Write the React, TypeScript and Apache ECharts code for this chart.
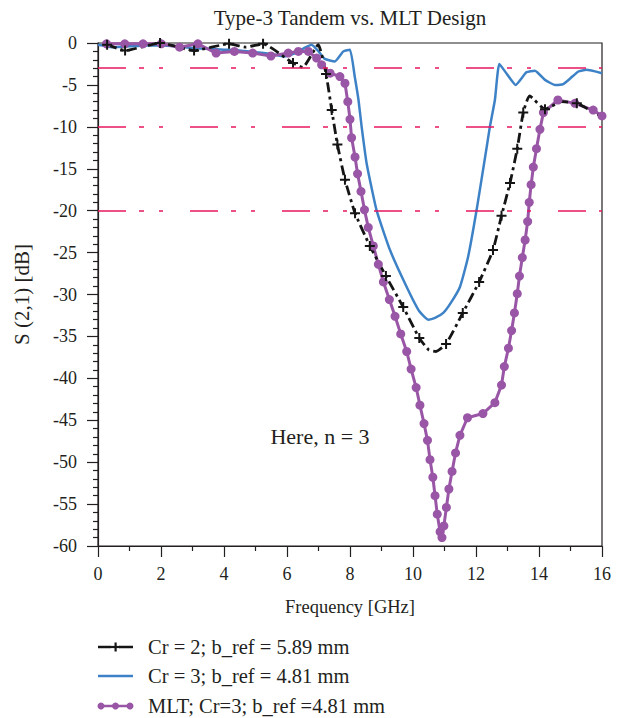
import { useEffect, useRef } from 'react';
import * as echarts from 'echarts';

const titleText = 'Type-3 Tandem vs. MLT Design';
const xName = 'Frequency [GHz]';
const yName = 'S (2,1) [dB]';
const noteText = 'Here, n = 3';
const legendNames = ['Cr = 2; b_ref = 5.89 mm', 'Cr = 3; b_ref = 4.81 mm', 'MLT; Cr=3; b_ref =4.81 mm'];
const refLevels = [-3, -10, -20];

const cr2Freq = [0.29, 0.86, 1.97, 3.05, 4.16, 4.7, 5.24, 6.19, 6.5, 6.99, 7.24, 7.42, 7.6, 7.84, 8.16, 8.63, 9.14, 9.69, 10.2, 10.5, 10.73, 11.05, 11.58, 12.1, 12.54, 12.81, 13.08, 13.31, 13.5, 13.7, 14.19, 14.72, 15.2, 16.0];
const cr2Db = [-0.2, -0.9, 0.0, -0.9, -0.1, -0.5, -0.1, -2.4, -2.9, -0.2, -3.7, -8.0, -12.1, -16.3, -20.3, -24.2, -27.8, -31.5, -35.2, -36.6, -36.8, -35.9, -32.2, -28.5, -24.7, -20.6, -16.7, -12.6, -8.3, -6.3, -7.9, -7.0, -7.2, -8.8];
const cr2Marked = [1, 1, 1, 1, 1, 0, 1, 1, 0, 0, 1, 1, 1, 1, 1, 1, 1, 1, 1, 0, 0, 1, 1, 1, 1, 1, 1, 1, 1, 0, 1, 0, 1, 0];

const cr3Freq = [0, 0.5, 1, 1.5, 2, 2.5, 3, 3.5, 4, 4.5, 5, 5.5, 5.9, 6.2, 6.5, 6.78, 7.0, 7.2, 7.52, 7.79, 8.0, 8.15, 8.27, 8.37, 8.53, 8.84, 9.27, 9.8, 10.2, 10.49, 10.7, 10.96, 11.2, 11.49, 11.75, 12.02, 12.34, 12.44, 12.6, 12.74, 13.0, 13.26, 13.6, 13.87, 14.19, 14.51, 14.77, 15.0, 15.25, 15.5, 16.0];
const cr3Db = [-0.2, -0.5, -0.4, -0.3, -0.3, -0.4, -0.6, -0.7, -0.8, -0.9, -1.1, -1.3, -1.6, -1.3, -0.7, -0.2, -1.0, -1.9, -2.2, -1.0, -0.8, -4.0, -6.8, -10.0, -14.4, -19.9, -24.7, -29.1, -32.0, -33.0, -32.8, -32.2, -31.0, -29.1, -25.5, -19.9, -12.4, -10.0, -6.8, -2.5, -3.8, -5.0, -3.5, -3.3, -4.4, -5.0, -4.9, -4.2, -3.4, -3.2, -3.6];

const mltFreq = [0.27, 0.85, 1.43, 2.01, 2.59, 3.17, 3.75, 4.33, 4.91, 5.49, 6.04, 6.36, 6.68, 6.94, 7.1, 7.37, 7.68, 7.84, 7.93, 8.0, 8.05, 8.16, 8.24, 8.35, 8.46, 8.58, 8.74, 8.9, 9.06, 9.25, 9.43, 9.61, 9.8, 9.94, 10.1, 10.22, 10.35, 10.46, 10.54, 10.63, 10.7, 10.77, 10.86, 10.92, 10.98, 11.06, 11.14, 11.24, 11.35, 11.49, 11.73, 12.22, 12.6, 12.81, 12.9, 13.03, 13.13, 13.22, 13.31, 13.38, 13.47, 13.56, 13.64, 13.69, 13.75, 13.82, 13.92, 14.03, 14.14, 14.6, 15.14, 15.72, 16.0];
const mltDb = [-0.1, -0.1, -0.1, -0.1, -0.5, -0.1, -1.2, -1.0, -1.2, -1.55, -1.2, -1.0, -1.0, -1.8, -2.6, -3.6, -4.0, -4.8, -7.0, -9.1, -11.3, -13.6, -15.6, -17.7, -19.9, -22.0, -24.2, -26.4, -28.5, -30.6, -32.6, -34.7, -36.8, -38.9, -41.1, -43.2, -45.4, -47.4, -49.7, -51.8, -54.0, -56.2, -58.3, -59.0, -57.6, -55.4, -53.2, -51.1, -48.9, -46.8, -44.7, -44.2, -42.9, -40.8, -38.6, -36.4, -34.3, -32.2, -29.9, -27.8, -25.6, -23.5, -21.3, -19.0, -16.9, -14.8, -12.6, -10.3, -8.3, -6.8, -7.2, -8.0, -8.7];

const FONT = "'Liberation Serif', 'DejaVu Serif', serif";
const TEXT = '#231f20';
const BLACK = '#151515';
const BLUE = '#3d82c6';
const PURPLE = '#9a56a6';
const PINK = '#e6175f';
const PLUS = 'path://M4,0H6V4H10V6H6V10H4V6H0V4H4Z';

export default function App() {
  const ref = useRef<HTMLDivElement>(null);
  useEffect(() => {
    if (!ref.current) return;
    const chart = echarts.init(ref.current, null, { renderer: 'svg' });
    const gl = 98, gr = 602, gt = 43, gb = 546;
    const cx = (gl + gr) / 2;
    const legY = [647, 676, 706];
    const legendGraphics: any[] = [];
    legendGraphics.push({ type: 'line', shape: { x1: 98, y1: legY[0], x2: 111, y2: legY[0] }, style: { stroke: BLACK, lineWidth: 2.5 } });
    legendGraphics.push({ type: 'line', shape: { x1: 119, y1: legY[0], x2: 133, y2: legY[0] }, style: { stroke: BLACK, lineWidth: 2.5 } });
    legendGraphics.push({ type: 'rect', shape: { x: 114.5, y: legY[0] - 4.5, width: 2.2, height: 9 }, style: { fill: BLACK } });
    legendGraphics.push({ type: 'rect', shape: { x: 111, y: legY[0] - 1.1, width: 9, height: 2.2 }, style: { fill: BLACK } });
    legendGraphics.push({ type: 'line', shape: { x1: 98, y1: legY[1], x2: 133, y2: legY[1] }, style: { stroke: BLUE, lineWidth: 2.5 } });
    legendGraphics.push({ type: 'line', shape: { x1: 98, y1: legY[2], x2: 133, y2: legY[2] }, style: { stroke: PURPLE, lineWidth: 2.5 } });
    [101, 115.5, 130].forEach((x) => legendGraphics.push({ type: 'circle', shape: { cx: x, cy: legY[2], r: 3.5 }, style: { fill: PURPLE } }));
    legendNames.forEach((n, i) => legendGraphics.push({ type: 'text', x: 148, y: legY[i], style: { text: n, font: `20.5px ${FONT}`, fill: TEXT, textAlign: 'left', textVerticalAlign: 'middle' } }));

    const option: any = {
      animation: false,
      grid: { left: gl, right: 621 - gr, top: gt, bottom: 718 - gb, show: true, borderColor: TEXT, borderWidth: 1.2, backgroundColor: 'transparent' },
      xAxis: {
        type: 'value', min: 0, max: 16, interval: 2,
        axisLine: { show: true, onZero: false, lineStyle: { color: TEXT, width: 1.2 } },
        axisTick: { show: true, length: 11, lineStyle: { color: TEXT, width: 1.2 } },
        minorTick: { show: true, splitNumber: 2, length: 5, lineStyle: { color: TEXT, width: 1.2 } },
        splitLine: { show: false },
        axisLabel: { color: TEXT, fontFamily: FONT, fontSize: 18, margin: 19 },
      },
      yAxis: {
        type: 'value', min: -60, max: 0, interval: 5,
        axisLine: { show: true, onZero: false, lineStyle: { color: TEXT, width: 1.2 } },
        axisTick: { show: true, length: 11, lineStyle: { color: TEXT, width: 1.2 } },
        minorTick: { show: true, splitNumber: 5, length: 5, lineStyle: { color: TEXT, width: 1.2 } },
        splitLine: { show: false },
        axisLabel: { color: TEXT, fontFamily: FONT, fontSize: 18, margin: 21 },
      },
      graphic: [
        { type: 'text', x: cx, y: 18, style: { text: titleText, font: `21px ${FONT}`, fill: TEXT, textAlign: 'center', textVerticalAlign: 'middle' } },
        { type: 'text', x: cx, y: 607, style: { text: xName, font: `18.5px ${FONT}`, fill: TEXT, textAlign: 'center', textVerticalAlign: 'middle' } },
        { type: 'text', x: 22, y: (gt + gb) / 2, rotation: Math.PI / 2, style: { text: yName, font: `21px ${FONT}`, fill: TEXT, textAlign: 'center', textVerticalAlign: 'middle' } },
        { type: 'text', x: 320, y: 436, style: { text: noteText, font: `22px ${FONT}`, fill: TEXT, textAlign: 'center', textVerticalAlign: 'middle' } },
        ...legendGraphics,
      ],
      series: [
        {
          type: 'line', name: 'ref', data: [], silent: true,
          markLine: {
            silent: true, symbol: ['none', 'none'], label: { show: false },
            lineStyle: { color: PINK, width: 1.6, type: [28, 13, 5, 15, 4, 27] },
            data: refLevels.map((v) => ({ yAxis: v })),
          },
        },
        {
          type: 'line', name: legendNames[1], showSymbol: false, symbol: 'none', smooth: 0.15,
          lineStyle: { color: BLUE, width: 2.5 }, itemStyle: { color: BLUE },
          data: cr3Freq.map((f, i) => [f, cr3Db[i]]),
        },
        {
          type: 'line', name: legendNames[2], symbol: 'circle', symbolSize: 9, showAllSymbol: true,
          lineStyle: { color: PURPLE, width: 3 }, itemStyle: { color: PURPLE },
          data: mltFreq.map((f, i) => [f, mltDb[i]]),
        },
        {
          type: 'line', name: legendNames[0], symbolSize: 10, showAllSymbol: true, smooth: 0.15,
          lineStyle: { color: BLACK, width: 2.8, type: [10, 4, 3, 4] }, itemStyle: { color: BLACK },
          data: cr2Freq.map((f, i) => ({ value: [f, cr2Db[i]], symbol: cr2Marked[i] ? PLUS : 'none' })),
        },
      ],
    };
    chart.setOption(option);
    return () => chart.dispose();
  }, []);
  return <div ref={ref} style={{ position: 'absolute', left: 0, top: 0, width: 621, height: 718 }} />;
}
